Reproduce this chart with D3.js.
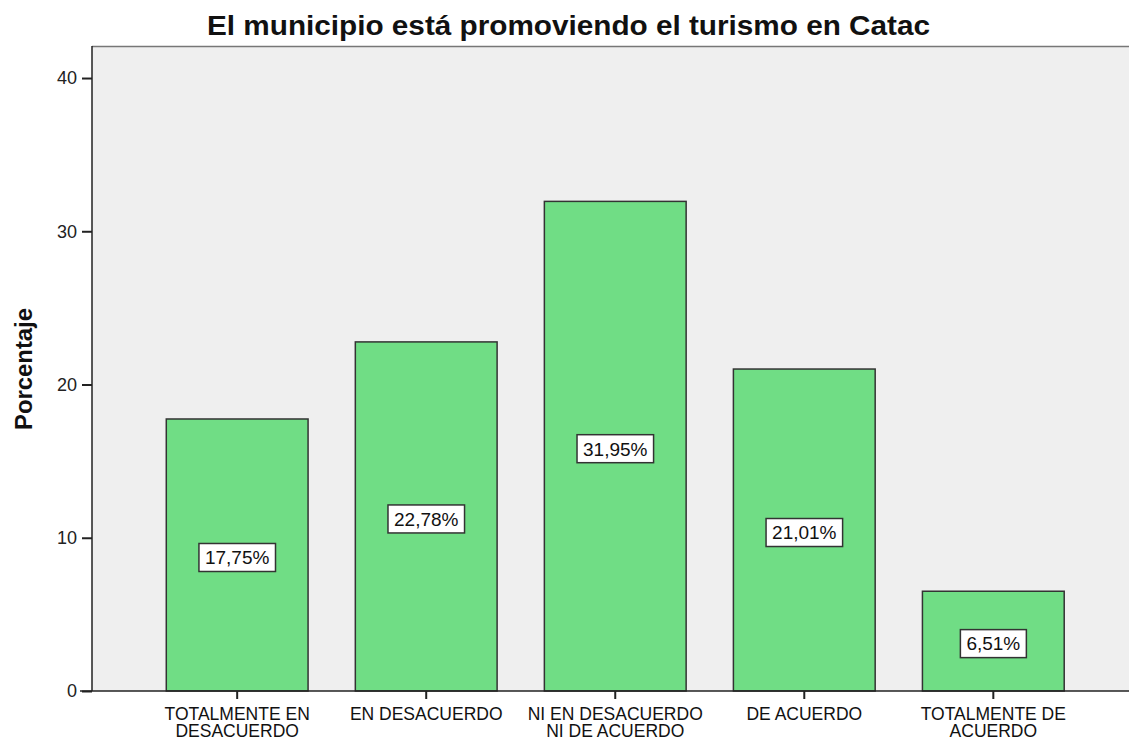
<!DOCTYPE html>
<html><head><meta charset="utf-8">
<script src="https://cdn.jsdelivr.net/npm/d3@7"></script>
<style>body{margin:0;background:#fff}svg{display:block}text{font-family:"Liberation Sans",Arial,sans-serif}</style>
</head><body>
<svg id="c" width="1129" height="740"></svg>
<script>
const categories = [["TOTALMENTE EN","DESACUERDO"],["EN DESACUERDO"],["NI EN DESACUERDO","NI DE ACUERDO"],["DE ACUERDO"],["TOTALMENTE DE","ACUERDO"]];
const values = [17.75, 22.78, 31.95, 21.01, 6.51];
const valueLabels = ["17,75%","22,78%","31,95%","21,01%","6,51%"];
const yTicks = [0,10,20,30,40];
const title = "El municipio está promoviendo el turismo en Catac";
const yTitle = "Porcentaje";

const svg = d3.select("#c");
const L = 92, T = 46, B = 691, R = 1129;
const y = d3.scaleLinear().domain([0, 42.09]).range([B, T]);
const x = d3.scaleBand().domain(d3.range(values.length)).range([L, 1138.5]).paddingInner(0.25).paddingOuter(0.393);

svg.append("rect").attr("x", L).attr("y", T).attr("width", R - L).attr("height", B - T).attr("fill", "#efefef");
svg.append("line").attr("x1", L).attr("x2", R).attr("y1", T + 0.5).attr("y2", T + 0.5).attr("stroke", "#777").attr("stroke-width", 1.5);

svg.selectAll("rect.bar").data(values).join("rect").attr("class", "bar")
  .attr("x", (d, i) => x(i)).attr("width", x.bandwidth())
  .attr("y", d => y(d)).attr("height", d => B - y(d))
  .attr("fill", "#70dd85").attr("stroke", "#333").attr("stroke-width", 1.5);

// value labels
const lg = svg.selectAll("g.lab").data(values).join("g").attr("class", "lab")
  .attr("transform", (d, i) => `translate(${x(i) + x.bandwidth() / 2},${y(d / 2) + 2.5})`);
lg.append("text").attr("text-anchor", "middle").attr("dy", "0.36em").attr("font-size", 19).attr("fill", "#111")
  .text((d, i) => valueLabels[i]);
lg.each(function () {
  const g = d3.select(this); const bb = g.select("text").node().getBBox();
  g.insert("rect", "text").attr("x", bb.x - 6).attr("y", -14).attr("width", bb.width + 12).attr("height", 28)
    .attr("fill", "#fff").attr("stroke", "#333").attr("stroke-width", 1.5);
});

// y axis
const ya = svg.append("g").attr("transform", `translate(${L},0)`)
  .call(d3.axisLeft(y).tickValues(yTicks).tickSize(10).tickPadding(5).tickFormat(d3.format("d")));
ya.select(".domain").attr("d", `M0,${T}V${B}`).attr("stroke", "#222").attr("stroke-width", 1.5);
ya.selectAll(".tick line").attr("stroke", "#222").attr("stroke-width", 2);
ya.selectAll(".tick text").attr("font-size", 18).attr("fill", "#222").attr("font-family", "Liberation Sans, Arial, sans-serif");

// x axis
const xa = svg.append("g").attr("transform", `translate(0,${B})`)
  .call(d3.axisBottom(x).tickSize(8).tickFormat(""));
xa.select(".domain").attr("d", `M${L - 12},0H${R}`).attr("stroke", "#222").attr("stroke-width", 1.5);
xa.selectAll(".tick line").attr("stroke", "#222").attr("stroke-width", 2);
xa.selectAll(".tick").each(function (d) {
  const t = d3.select(this).append("text").attr("text-anchor", "middle").attr("font-size", 17.5).attr("fill", "#111");
  categories[d].forEach((s, k) => t.append("tspan").attr("x", 0).attr("y", 29 + k * 16.5).text(s));
});

svg.append("text").attr("x", 568.5).attr("y", 35).attr("text-anchor", "middle").attr("font-size", 27).attr("font-weight", "bold").attr("fill", "#111")
  .attr("textLength", 723).attr("lengthAdjust", "spacingAndGlyphs").text(title);
svg.append("text").attr("transform", "translate(32,369) rotate(-90)").attr("text-anchor", "middle").attr("font-size", 23).attr("font-weight", "bold").attr("fill", "#111")
  .attr("textLength", 122).attr("lengthAdjust", "spacingAndGlyphs").text(yTitle);
</script>
</body></html>
